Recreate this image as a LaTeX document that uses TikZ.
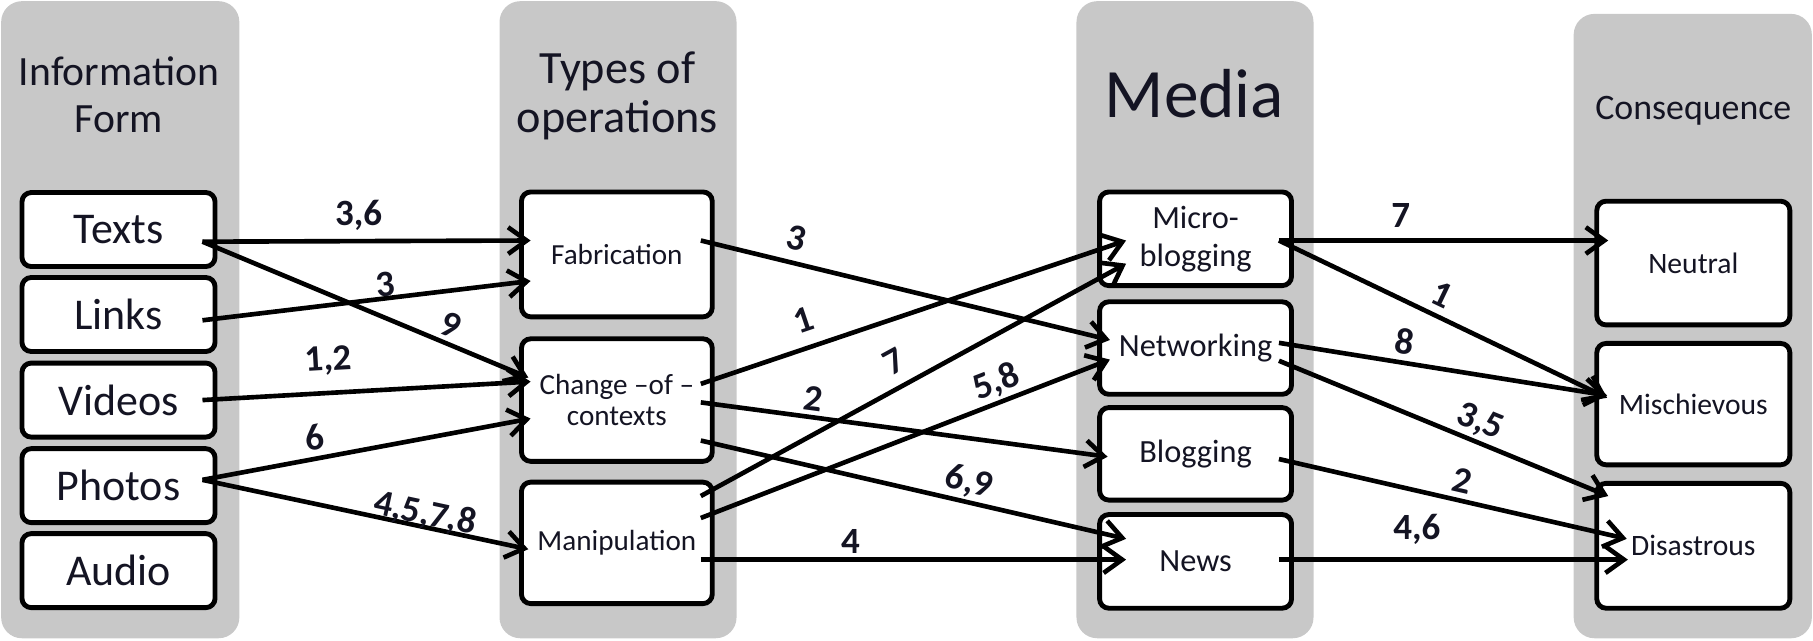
\documentclass[tikz,border=0pt]{standalone}
\usepackage{fontspec}
\setmainfont{Carlito}
\usetikzlibrary{arrows.meta,calc}
\definecolor{panelgray}{RGB}{200,200,200}
\definecolor{txt}{RGB}{20,20,35}
\begin{document}
\begin{tikzpicture}[x=0.5pt,y=-0.5pt,
  panel/.style={fill=panelgray, rounded corners=9pt},
  box/.style={draw=black, line width=2.1pt, fill=white, rounded corners=4pt, inner sep=0pt, align=center, text=txt},
  c1box/.style={box, minimum width=83.5pt, minimum height=32pt, font=\fontsize{19}{22}\selectfont},
  c2box/.style={box, minimum width=82.5pt, font=\fontsize{12.6}{13.75}\selectfont},
  c3box/.style={box, minimum width=83pt, font=\fontsize{14}{16.5}\selectfont},
  c4box/.style={box, minimum width=83.5pt, font=\fontsize{12.8}{15}\selectfont},
  title/.style={align=center, text=txt},
  arr/.style={line width=2pt, -{Straight Barb[length=8pt,width=11.5pt]}},
  lbl/.style={font=\fontsize{16}{16}\selectfont\bfseries, inner sep=0pt, sloped, text=txt}
]
\useasboundingbox (0,0) rectangle (1568,554);
% panels
\fill[panel] (1,1) rectangle (207,552);
\fill[panel] (432,1) rectangle (637,552);
\fill[panel] (931,1) rectangle (1136,552);
\fill[panel] (1361,12) rectangle (1567,552);
% titles
\node[title, font=\fontsize{18}{20.5}\selectfont] (t1) at (103,82) {Information\\Form};
\node[title, font=\fontsize{20}{21.5}\selectfont] (t2) at (534,83) {Types of\\operations};
\node[title, font=\fontsize{30}{36}\selectfont] (t3) at (1033,81) {Media};
\node[title, font=\fontsize{15.5}{18}\selectfont] (t4) at (1464.5,95.5) {Consequence};
% column 1
\node[c1box] (texts) at (102.5,198.5) {Texts};
\node[c1box] (links) at (102.5,272) {Links};
\node[c1box] (videos) at (102.5,346) {Videos};
\node[c1box] (photos) at (102.5,420) {Photos};
\node[c1box] (audio) at (102.5,493.5) {Audio};
% column 2
\node[c2box, minimum height=54pt] (fab) at (533.5,220) {Fabrication};
\node[c2box, minimum height=53pt] (change) at (533.5,346) {Change –of –\\contexts};
\node[c2box, minimum height=52.5pt] (manip) at (533.5,469.5) {Manipulation};
% column 3
\node[c3box, minimum height=40.5pt] (micro) at (1034,206.5) {Micro-\\blogging};
\node[c3box, minimum height=40pt] (net) at (1034,301) {Networking};
\node[c3box, minimum height=40pt] (blog) at (1034,392.5) {Blogging};
\node[c3box, minimum height=40.5pt] (news) at (1034,485.5) {News};
% column 4
\node[c4box, minimum height=53.5pt] (neutral) at (1464.5,227.5) {Neutral};
\node[c4box, minimum height=52.5pt] (misch) at (1464.5,349.5) {Mischievous};
\node[c4box, minimum height=54pt] (dis) at (1464.5,472) {Disastrous};
% connectors: column 1 -> column 2
\draw[arr] ([shift={(-13,10.5)}]texts.east) -- node[lbl,pos=0.476,above=3.75pt] (l1) {3,6} ([shift={(10,-12)}]fab.west);
\draw[arr] ([shift={(-13,10.5)}]texts.east) -- node[lbl,pos=0.741,above=1.9pt] (l2) {9} ([shift={(8,-19.5)}]change.west);
\draw[arr] ([shift={(-13,5)}]links.east) -- node[lbl,pos=0.5625,above=-0.5pt] (l3) {3} ([shift={(10,23)}]fab.west);
\draw[arr] ([shift={(-13,0)}]videos.east) -- node[lbl,pos=0.389,above=6.5pt] (l4) {1,2} ([shift={(10,-16)}]change.west);
\draw[arr] ([shift={(-13,-5)}]photos.east) -- node[lbl,pos=0.354,above=2.5pt] (l5) {6} ([shift={(10,16)}]change.west);
\draw[arr] ([shift={(-13,-5)}]photos.east) -- node[lbl,pos=0.675,above=-2pt] (l6) {4,5,7,8} ([shift={(8,5.5)}]manip.west);
% column 2 -> column 3
\draw[arr] ([shift={(-12,-12)}]fab.east) -- node[lbl,pos=0.22,above=4.7pt] (l7) {3} ([shift={(11,-7)}]net.west);
\draw[arr] ([shift={(-12,-14)}]change.east) -- node[lbl,pos=0.263,above=5.5pt] (l8) {1} ([shift={(25,1.5)}]micro.west);
\draw[arr] ([shift={(-12,2)}]change.east) -- node[lbl,pos=0.27,above=1.8pt] (l9) {2} ([shift={(9,2.5)}]blog.west);
\draw[arr] ([shift={(-12,35)}]change.east) -- node[lbl,pos=0.62,above=1pt] (l10) {6,9} ([shift={(25,-19.5)}]news.west);
\draw[arr] ([shift={(-12,-40.5)}]manip.east) -- node[lbl,pos=0.484,above=4.9pt] (l11) {7} ([shift={(25,21.5)}]micro.west);
\draw[arr] ([shift={(-12,-21.5)}]manip.east) -- node[lbl,pos=0.74,above=1pt] (l12) {5,8} ([shift={(11,10)}]net.west);
\draw[arr] ([shift={(-12,14.5)}]manip.east) -- node[lbl,pos=0.352,above=1.5pt] (l13) {4} ([shift={(25,-1.5)}]news.west);
% column 3 -> column 4
\draw[arr] ([shift={(-13,1.5)}]micro.east) -- node[lbl,pos=0.37,above=4.5pt] (l14) {7} ([shift={(12,-19.5)}]neutral.west);
\draw[arr] ([shift={(-13,1.5)}]micro.east) -- node[lbl,pos=0.469,above=3.4pt] (l15) {1} ([shift={(11,-5.5)}]misch.west);
\draw[arr] ([shift={(-13,-4.5)}]net.east) -- node[lbl,pos=0.372,above=2.7pt] (l16) {8} ([shift={(11,-7.5)}]misch.west);
\draw[arr] ([shift={(-13,11)}]net.east) -- node[lbl,pos=0.588,above=1.2pt] (l17) {3,5} ([shift={(12,-43)}]dis.west);
\draw[arr] ([shift={(-13,4.5)}]blog.east) -- node[lbl,pos=0.515,above=2.5pt] (l18) {2} ([shift={(28,-6)}]dis.west);
\draw[arr] ([shift={(-13,-1.5)}]news.east) -- node[lbl,pos=0.395,above=5.5pt] (l19) {4,6} ([shift={(29,12)}]dis.west);
\end{tikzpicture}
\end{document}
